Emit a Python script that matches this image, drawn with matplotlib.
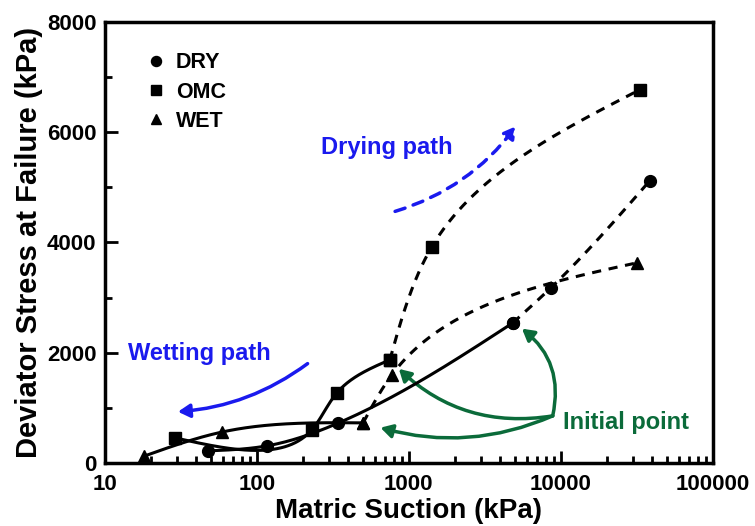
import numpy as np
import matplotlib
matplotlib.use("Agg")
import matplotlib.pyplot as plt
from matplotlib.patches import FancyArrowPatch

plt.rcParams['font.family'] = ['Liberation Sans', 'DejaVu Sans']
plt.rcParams['font.weight'] = 'bold'

# data (suction in kPa, deviator stress in kPa)
dry_wet_x = [48, 116, 341, 4830]
dry_wet_y = [218, 308, 720, 2540]
dry_dry_x = [4830, 8590, 38500]
dry_dry_y = [2540, 3175, 5120]

omc_wet_x = [29, 230, 336, 750]
omc_wet_y = [453, 600, 1270, 1870]
omc_dry_x = [750, 1416, 33000]
omc_dry_y = [1870, 3920, 6770]

wet_wet_x = [18, 59, 500]
wet_wet_y = [120, 560, 726]
wet_dry_x = [500, 773, 31600]
wet_dry_y = [726, 1597, 3630]

labels = ['DRY', 'OMC', 'WET']
markers = ['o', 's', '^']


def spline(t, v, tt):
    # natural cubic spline
    n = len(t)
    if n < 3:
        return np.interp(tt, t, v)
    h = np.diff(t)
    A = np.zeros((n, n))
    r = np.zeros(n)
    A[0, 0] = A[-1, -1] = 1
    for i in range(1, n - 1):
        A[i, i - 1] = h[i - 1]
        A[i, i] = 2 * (h[i - 1] + h[i])
        A[i, i + 1] = h[i]
        r[i] = 6 * ((v[i + 1] - v[i]) / h[i] - (v[i] - v[i - 1]) / h[i - 1])
    M = np.linalg.solve(A, r)
    k = np.clip(np.searchsorted(t, tt) - 1, 0, n - 2)
    a = t[k + 1] - tt
    b = tt - t[k]
    hk = h[k]
    return (M[k] * a**3 / (6 * hk) + M[k + 1] * b**3 / (6 * hk)
            + (v[k] / hk - M[k] * hk / 6) * a
            + (v[k + 1] / hk - M[k + 1] * hk / 6) * b)


def smooth(xs, ys):
    # parametric spline in roughly screen-proportional units
    u = np.log10(xs) * 152.0
    w = np.array(ys) * 0.0551
    d = np.hypot(np.diff(u), np.diff(w))
    t = np.concatenate([[0], np.cumsum(d)])
    tt = np.linspace(0, t[-1], 300)
    su = spline(t, u, tt)
    sw = spline(t, w, tt)
    return 10 ** (su / 152.0), sw / 0.0551


fig = plt.figure(figsize=(7.55, 5.26), dpi=100)
ax = fig.add_axes([0.139, 0.12, 0.805, 0.838])

series = [
    (dry_wet_x, dry_wet_y, dry_dry_x, dry_dry_y),
    (omc_wet_x, omc_wet_y, omc_dry_x, omc_dry_y),
    (wet_wet_x, wet_wet_y, wet_dry_x, wet_dry_y),
]

for (wx, wy, dx, dy), lab, m in zip(series, labels, markers):
    sx, sy = smooth(wx, wy)
    ax.plot(sx, sy, color='black', lw=2.2, solid_capstyle='round')
    sx, sy = smooth(dx, dy)
    ax.plot(sx, sy, color='black', lw=2.2, ls=(0, (3, 2.5)))
    ax.plot(wx + dx, wy + dy, ls='none', marker=m, color='black',
            markersize=8.5, label=lab)

ax.set_xscale('log')
ax.set_xlim(10, 100000)
ax.set_ylim(0, 8000)
ax.set_xticks([10, 100, 1000, 10000, 100000])
ax.set_xticklabels(['10', '100', '1000', '10000', '100000'])
ax.set_yticks([0, 2000, 4000, 6000, 8000])
ax.set_yticks([1000, 3000, 5000, 7000], minor=True)

ax.tick_params(which='major', direction='in', length=9, width=2, labelsize=16,
               top=False, right=False)
ax.tick_params(axis='x', which='major', pad=8)
ax.tick_params(axis='y', which='major', pad=6)
ax.tick_params(which='minor', direction='in', length=5, width=2,
               top=False, right=False)
for s in ax.spines.values():
    s.set_linewidth(2.5)
for t in ax.get_xticklabels() + ax.get_yticklabels():
    t.set_fontweight('bold')

ax.set_xlabel('Matric Suction (kPa)', fontsize=20, fontweight='bold', labelpad=2)
ax.set_ylabel('Deviator Stress at Failure (kPa)', fontsize=21, fontweight='bold',
              labelpad=3)

leg = ax.legend(loc='upper left', bbox_to_anchor=(0.035, 0.975), frameon=False,
                handlelength=1.0, handletextpad=0.4, labelspacing=0.38,
                prop={'size': 15.5, 'weight': 'bold'}, markerscale=0.85)

blue = '#1a1aee'
green = '#0b6b3a'

# wetting path arrow
ax.add_patch(FancyArrowPatch((223, 1832), (29, 925), connectionstyle='arc3,rad=-0.15',
                             arrowstyle='-|>,head_length=7,head_width=4',
                             color=blue, lw=2.5))
ax.text(42, 1978, 'Wetting path', color=blue, fontsize=17, fontweight='bold',
        ha='center', va='center')

# drying path arrow
ax.add_patch(FancyArrowPatch((780, 4550), (5200, 6150), connectionstyle='arc3,rad=0.17',
                             arrowstyle='-|>,head_length=7,head_width=4',
                             color=blue, lw=2.5, ls=(0, (3, 2.5))))
ax.text(716, 5717, 'Drying path', color=blue, fontsize=17, fontweight='bold',
        ha='center', va='center')

# initial point arrows
start = (8850, 853)
for end, rad in [((625, 653), -0.18), ((834, 1741), -0.25), ((5370, 2467), 0.32)]:
    ax.add_patch(FancyArrowPatch(start, end, connectionstyle='arc3,rad=%s' % rad,
                                 arrowstyle='-|>,head_length=7,head_width=4',
                                 color=green, lw=2.5, shrinkA=0, shrinkB=2))
ax.text(10300, 726, 'Initial point', color=green, fontsize=17, fontweight='bold',
        ha='left', va='center')

fig.savefig('out.png', dpi=100)
